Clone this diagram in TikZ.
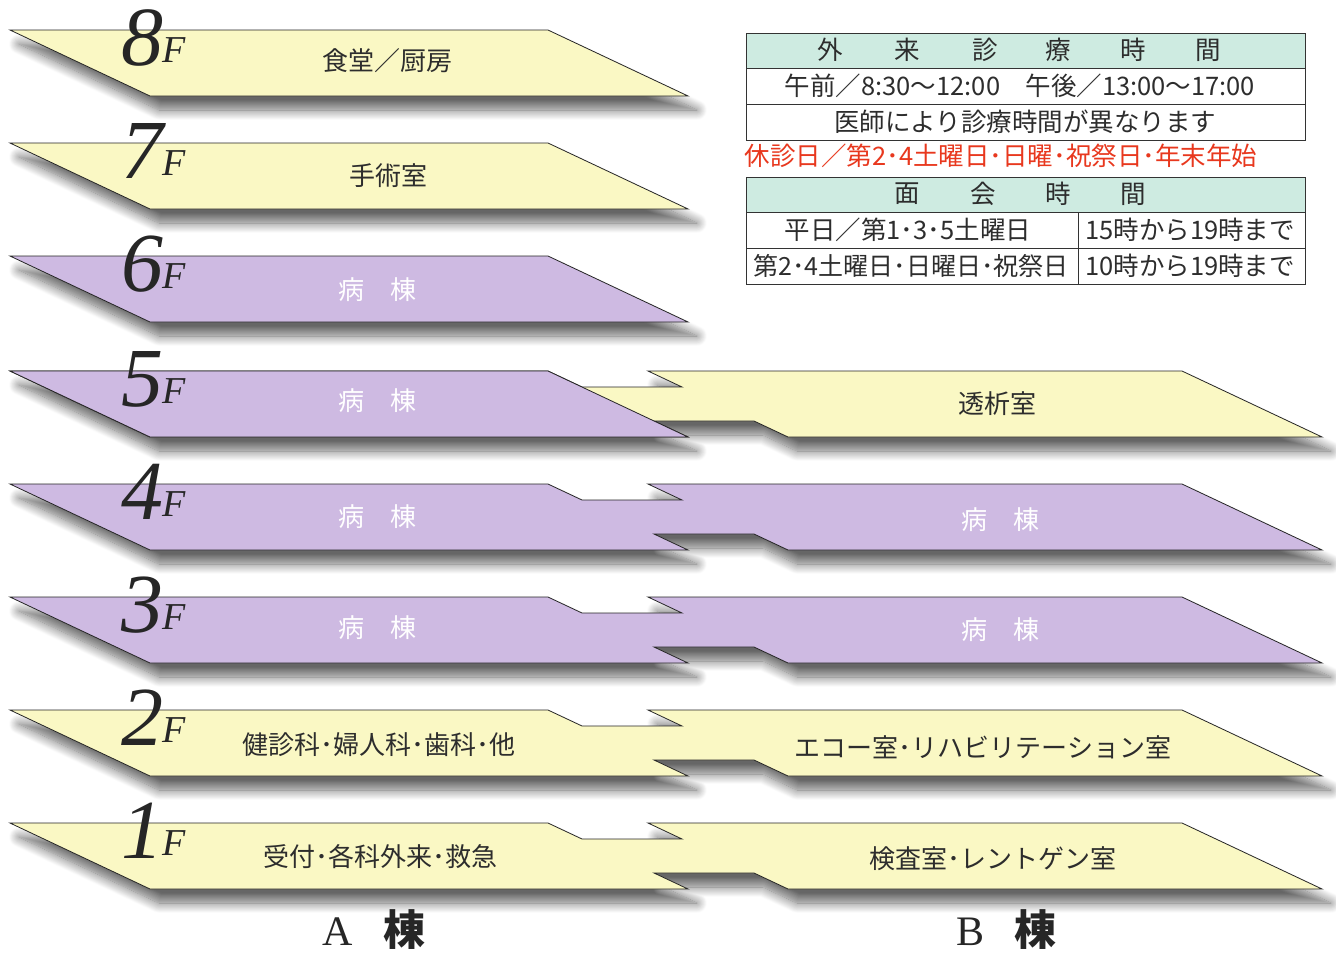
\documentclass[tikz,border=0pt]{standalone}
\usepackage{fontspec}
\setmainfont{Liberation Serif}
\newfontfamily\jp{Noto Sans CJK JP}
\usetikzlibrary{shadows.blur}
\definecolor{flY}{RGB}{250,248,196}
\definecolor{flP}{RGB}{206,186,226}
\definecolor{hdr}{RGB}{206,235,225}
\definecolor{txt}{RGB}{45,45,45}
\definecolor{holRed}{RGB}{232,56,30}
\tikzset{
  shp/.style={draw=black!85, line width=0.8pt, line join=miter,
    blur shadow={shadow xshift=9pt, shadow yshift=-14pt, shadow blur radius=10pt, shadow blur steps=14, shadow opacity=60}},
  edg/.style={draw=black!85, line width=0.8pt},
  lbl/.style={font=\jp\fontsize{26}{28}\selectfont, text=txt, inner sep=0pt},
  wlbl/.style={font=\jp\fontsize{26}{28}\selectfont, text=white, inner sep=0pt},
  dig/.style={font=\itshape\fontsize{84}{84}\selectfont, text=black!85, inner sep=0pt, anchor=base},
  fl/.style={font=\itshape\fontsize{38}{38}\selectfont, text=black!85, inner sep=0pt, anchor=base west},
  tb/.style={draw=black!80, line width=0.9pt},
  ttx/.style={font=\jp\fontsize{25.5}{27}\selectfont, text=txt, inner sep=0pt},
  wing/.style={text=black!85, inner sep=0pt},
}
\newcommand\flAonly[2]{%
  \path[shp, fill=#2] (10,#1) -- (548,#1) -- (688,#1+66) -- (150,#1+66) -- cycle;}
\newcommand\flAB[2]{%
  \path[shp, fill=#2] (10,#1) -- (548,#1) -- (582,#1+16) -- (682,#1+16) -- (648,#1) -- (1182,#1) -- (1322,#1+66) -- (788,#1+66) -- (754,#1+50) -- (654,#1+50) -- (688,#1+66) -- (150,#1+66) -- cycle;}
\newcommand\flAover[2]{%
  \path[edg, fill=#2] (10,#1) -- (548,#1) -- (688,#1+66) -- (150,#1+66) -- cycle;}
\newcommand\flnum[3]{%
  \node[dig] (d#3) at (142,#1+35) {#2};
  \node[fl] (F#3) at (162,#1+32) {F};}
\begin{document}
\begin{tikzpicture}[x=1pt,y=-1pt]
\useasboundingbox (0,0) rectangle (1336,956);
% floors
\flAonly{30}{flY}
\flAonly{143}{flY}
\flAonly{256}{flP}
\flAB{371}{flY}
\flAover{371}{flP}
\flAB{484}{flP}
\flAB{597}{flP}
\flAB{710}{flY}
\flAB{823}{flY}
% floor numbers
\flnum{30}{8}{8}
\flnum{143}{7}{7}
\flnum{256}{6}{6}
\flnum{371}{5}{5}
\flnum{484}{4}{4}
\flnum{597}{3}{3}
\flnum{710}{2}{2}
\flnum{823}{1}{1}
% floor texts
\node[lbl] (a8) at (387,61) {食堂／厨房};
\node[lbl] (a7) at (388,176) {手術室};
\node[wlbl] (a6) at (377,290) {病　棟};
\node[wlbl] (a5) at (377,401) {病　棟};
\node[lbl] (b5) at (997,404) {透析室};
\node[wlbl] (a4) at (377,517) {病　棟};
\node[wlbl] (b4) at (1000,520) {病　棟};
\node[wlbl] (a3) at (377,628) {病　棟};
\node[wlbl] (b3) at (1000,630) {病　棟};
\node[lbl] (a2) at (379,745) {健診科･婦人科･歯科･他};
\node[lbl] (b2) at (983,747) {エコー室･リハビリテーション室};
\node[lbl] (a1) at (380,857) {受付･各科外来･救急};
\node[lbl] (b1) at (993,859) {検査室･レントゲン室};
% wing labels
\node[wing] (wa) at (374,930) {\fontsize{42}{42}\selectfont A\hspace{30pt}{\jp\bfseries 棟}};
\node[wing] (wb) at (1006,930) {\fontsize{42}{42}\selectfont B\hspace{30pt}{\jp\bfseries 棟}};
% table 1
\fill[hdr] (746,33) rectangle (1305,68);
\draw[tb] (746,33) rectangle (1305,140);
\draw[tb] (746,68) -- (1305,68);
\draw[tb] (746,104) -- (1305,104);
\foreach \c/\x [count=\i] in {外/830,来/907,診/985,療/1058,時/1133,間/1208}
  \node[ttx] (h1\i) at (\x,50) {\c};
\node[ttx] (r11) at (1020,86) {午前／8:30～12:00　午後／13:00～17:00};
\node[ttx] (r12) at (1025,122) {医師により診療時間が異なります};
\node[ttx, text=holRed] (hol) at (1001,156) {休診日／第2･4土曜日･日曜･祝祭日･年末年始};
% table 2
\fill[hdr] (746,177) rectangle (1305,212);
\draw[tb] (746,177) rectangle (1305,284);
\draw[tb] (746,212) -- (1305,212);
\draw[tb] (746,248) -- (1305,248);
\draw[tb] (1078,212) -- (1078,284);
\foreach \c/\x [count=\i] in {面/907,会/983,時/1058,間/1133}
  \node[ttx] (h2\i) at (\x,194) {\c};
\node[ttx] (r21) at (908,230) {平日／第1･3･5土曜日};
\node[ttx] (r22) at (1190,230) {15時から19時まで};
\node[ttx, font=\jp\fontsize{25}{27}\selectfont] (r31) at (911,266) {第2･4土曜日･日曜日･祝祭日};
\node[ttx] (r32) at (1190,266) {10時から19時まで};
\end{tikzpicture}
\end{document}
